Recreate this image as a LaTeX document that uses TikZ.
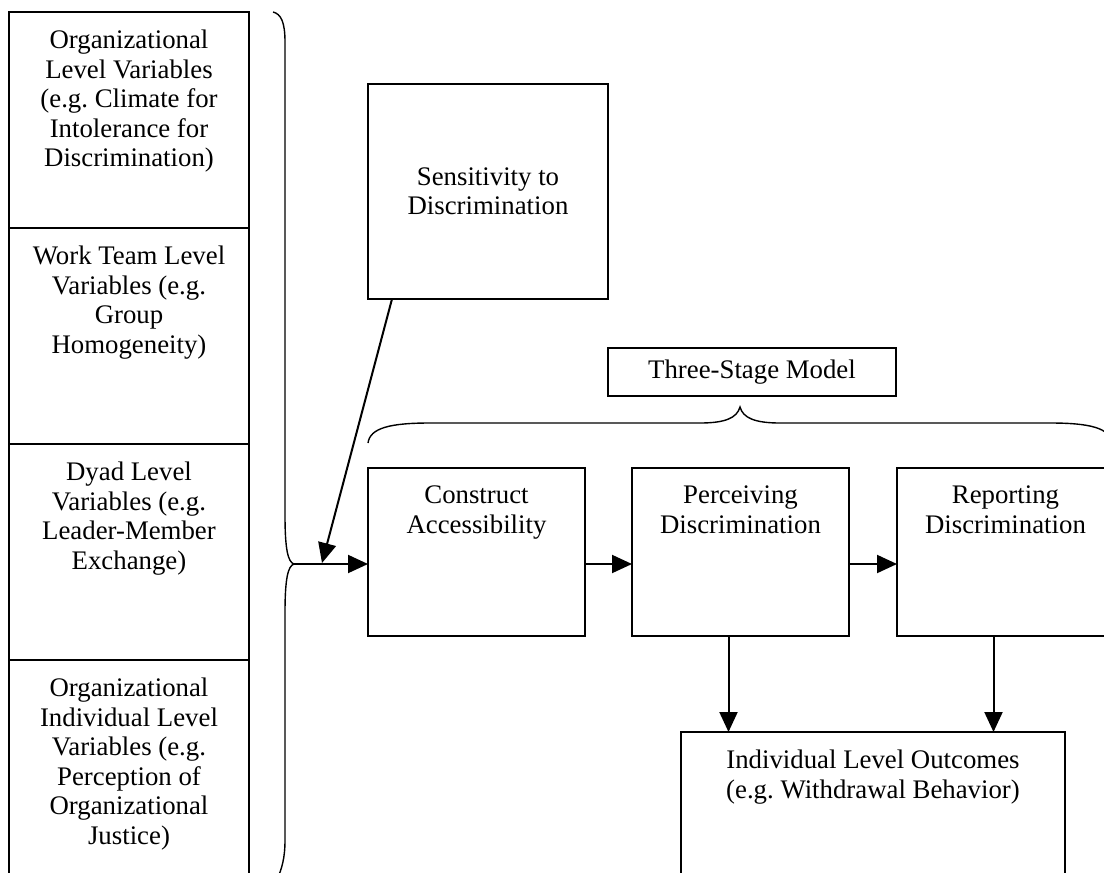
\documentclass[tikz,border=0pt]{standalone}
\usepackage{fontspec}
\setmainfont{Liberation Serif}
\usetikzlibrary{positioning,arrows.meta}
\frenchspacing

\begin{document}
\begin{tikzpicture}
    [x=1pt, y=-1pt,
    every node/.style={font=\fontsize{26.8}{29.5}\selectfont},
    box/.style={draw, line width=2pt, rectangle, inner sep=0pt, outer sep=0pt},
    cell/.style={box, minimum width=240pt, minimum height=216pt},
    stage/.style={box, minimum width=217pt, minimum height=168pt},
    txt/.style={anchor=north, align=center, inner sep=0pt, yshift=-18pt},
    arr/.style={line width=2pt, -{Triangle[length=20pt, width=18pt]}},
    curly/.style={line width=1.4pt}]
    \useasboundingbox (0,0) rectangle (1104,873);
    \clip (0,0) rectangle (1104,873);

    % left column of levels
    \node[cell] (orglvl) at (129,120) {};
    \node[cell, below=0pt of orglvl] (teamlvl) {};
    \node[cell, below=0pt of teamlvl] (dyadlvl) {};
    \node[cell, below=0pt of dyadlvl] (indlvl) {};
    \node[txt] at (orglvl.north) {Organizational\\Level Variables\\(e.g. Climate for\\Intolerance for\\Discrimination)};
    \node[txt] at (teamlvl.north) {Work Team Level\\Variables (e.g.\\Group\\Homogeneity)};
    \node[txt] at (dyadlvl.north) {Dyad Level\\Variables (e.g.\\Leader-Member\\Exchange)};
    \node[txt] at (indlvl.north) {Organizational\\Individual Level\\Variables (e.g.\\Perception of\\Organizational\\Justice)};

    \draw[curly] (273,12) .. controls (281,14) and (285,22) .. (285,42)
      -- (285,515) .. controls (285,550) and (288,562) .. (294,564)
      .. controls (288,566) and (285,578) .. (285,613)
      -- (285,840) .. controls (285,858) and (282,868) .. (277,880);
    \coordinate (tip) at (294,564);

    \node[box, minimum width=240pt, minimum height=215pt, align=center] (sens) at (488,191.5) {Sensitivity to\\Discrimination};
    \node[box, minimum width=288pt, minimum height=48pt] (model) at (752,372) {Three-Stage Model};

    \draw[curly] (368,443) .. controls (370,428) and (390,423) .. (430,423)
      -- (700,423) .. controls (725,423) and (737,418) .. (740,407)
      .. controls (743,418) and (755,423) .. (780,423)
      -- (1050,423) .. controls (1090,423) and (1110,428) .. (1112,443);

    % the three stages
    \node[stage] (constr) at (476.5,552) {};
    \node[stage, right=47pt of constr] (perc) {};
    \node[stage, right=48pt of perc] (report) {};
    \node[txt] at (constr.north) {Construct\\Accessibility};
    \node[txt] at (perc.north) {Perceiving\\Discrimination};
    \node[txt] at (report.north) {Reporting\\Discrimination};

    \node[box, minimum width=384pt, minimum height=160pt] (outc) at (873,812) {};
    \node[txt] at (outc.north) {Individual Level Outcomes\\(e.g. Withdrawal Behavior)};

    \coordinate (sensend) at (322,563);
    \draw[arr] ([xshift=24pt]sens.south west) -- (sensend);
    \draw[arr] (tip) -- (tip -| constr.west);
    \draw[arr] (constr.east |- tip) -- (perc.west |- tip);
    \draw[arr] (perc.east |- tip) -- (report.west |- tip);
    \draw[arr] ([xshift=-12pt]perc.south) -- ([xshift=-12pt]perc.south |- outc.north);
    \draw[arr] ([xshift=-12pt]report.south) -- ([xshift=-12pt]report.south |- outc.north);
\end{tikzpicture}
\end{document}
